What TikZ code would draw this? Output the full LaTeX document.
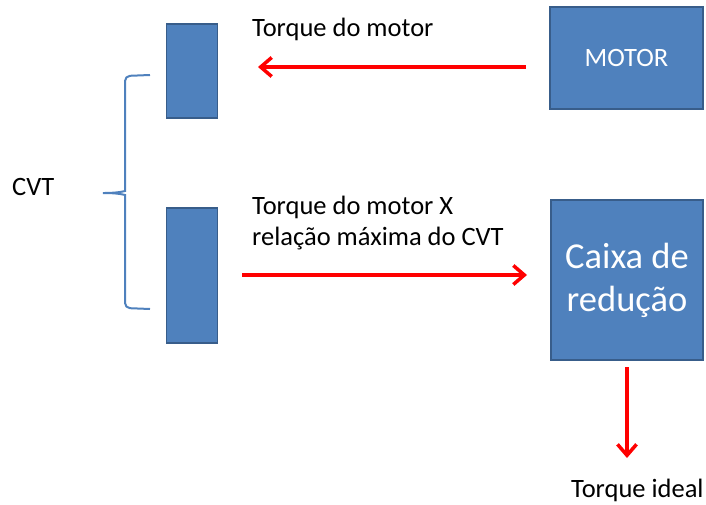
\documentclass[tikz,border=0pt]{standalone}
\usepackage{fontspec}
\setmainfont{Carlito}
\usepackage{tikz}
\usetikzlibrary{arrows.meta}
\definecolor{boxblue}{RGB}{79,129,189}
\definecolor{boxedge}{RGB}{56,93,138}
\tikzset{
	block/.style={draw=boxedge, fill=boxblue, line width=1.6pt, text=white, inner sep=0pt, align=center},
	torque/.style={draw=red, line width=3.5pt, -{Straight Barb[length=11pt, width=19pt]}},
	label/.style={inner sep=0pt, font=\fontsize{26.5}{31}\selectfont}
}

\begin{document}
\begin{tikzpicture}[x=1pt, y=-1pt]
			%%%%% START %%%%%
			\useasboundingbox (0, 0) rectangle (706, 505);
			
			% cvt discs
			\node[block, minimum width=51pt, minimum height=94pt] (discA) at (192, 71) {};
			\node[block, minimum width=51pt, minimum height=135pt] (discB) at (192, 275.5) {};
			
			% boxes
			\node[block, minimum width=153pt, minimum height=102pt, font=\fontsize{26.5}{31}\selectfont] (motor) at (626.5, 58) {MOTOR};
			\node[block, minimum width=152pt, minimum height=160pt, font=\fontsize{36.5}{43}\selectfont] (caixa) at (627, 280) {Caixa de\\redução};
			
			% brace
			\draw[boxblue, line width=2pt, rounded corners=5pt] (150, 75) -- (125, 76) -- (125, 186) .. controls (125, 191) and (118, 193) .. (100, 193)
				.. controls (118, 193) and (125, 195) .. (125, 200) -- (125, 308) -- (150, 309);
			
			% labels
			\node[label, anchor=base west] (lblCvt) at (12, 195) {CVT};
			\node[label, anchor=base west] (lblTop) at (252, 37) {Torque do motor};
			\node[label, anchor=north west, align=left] (lblMid) at (252, 196) {Torque do motor X\\relação máxima do CVT};
			\node[label, anchor=base west] (lblOut) at (571, 497) {Torque ideal};
			
			% arrows
			\coordinate (inA) at (526, 67);
			\coordinate (outA) at (258, 67);
			\coordinate (inB) at (242, 275);
			\coordinate (outB) at (527, 275);
			\coordinate (inC) at (627, 367);
			\coordinate (outC) at (627, 458);
			\draw[torque] (inA) -- (outA);
			\draw[torque] (inB) -- (outB);
			\draw[torque] (inC) -- (outC);
			
			%%%%% END %%%%%
\end{tikzpicture}
\end{document}
